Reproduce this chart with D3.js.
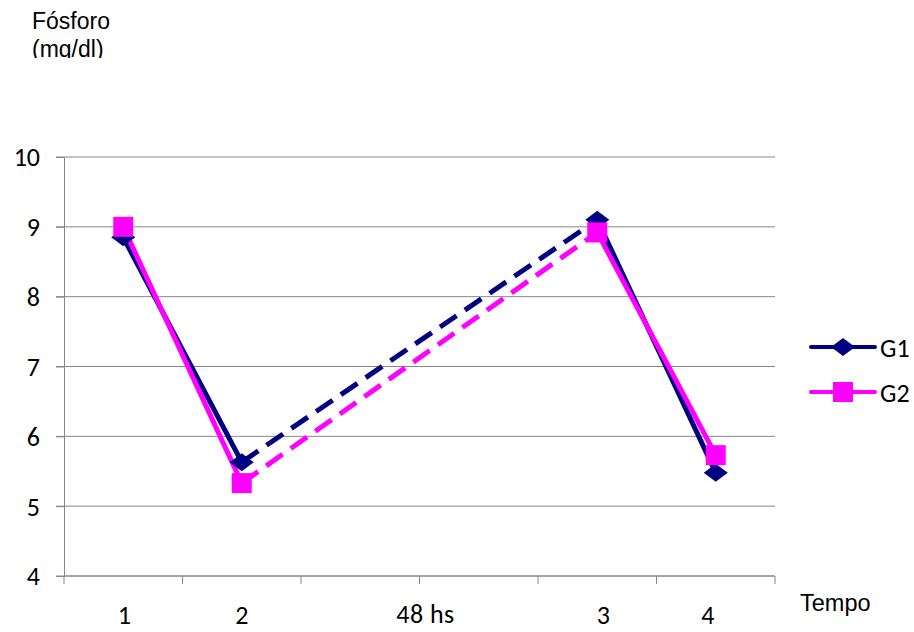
<!DOCTYPE html>
<html>
<head>
<meta charset="utf-8">
<script src="https://cdn.jsdelivr.net/npm/d3@7"></script>
<style>
  body { margin: 0; background: #fff; }
  svg { display: block; }
</style>
</head>
<body>
<svg id="chart" width="914" height="632"></svg>
<script>
// Time slots along the x axis (the two middle slots represent the 48 h gap)
const slots = ["t1", "t2", "gapA", "gapB", "t3", "t4"];
const slotLabels = ["1", "2", "", "", "3", "4"];
const gapLabel = "48 hs";

// Phosphorus (mg/dl) per group at each measured time
const measuredSlots = ["t1", "t2", "t3", "t4"];
const g1Values = [8.85, 5.63, 9.1, 5.48];
const g2Values = [9.0, 5.33, 8.92, 5.73];

const yTicks = [4, 5, 6, 7, 8, 9, 10];
const seriesNames = ["G1", "G2"];
const seriesColors = ["#000080", "#FF00FF"];

const svg = d3.select("#chart");
const plotLeft = 64, plotRight = 775, plotTop = 157, plotBottom = 576;

const x = d3.scaleBand().domain(slots).range([plotLeft, plotRight]);
const y = d3.scaleLinear().domain([4, 10]).range([plotBottom, plotTop]);

const fontNum = "Carlito, Calibri, Lato, 'Open Sans', sans-serif";
const fontArial = "'Liberation Sans', Arial, sans-serif";

// Horizontal gridlines
svg.append("g")
  .selectAll("line")
  .data(yTicks)
  .join("line")
  .attr("x1", plotLeft - 8).attr("x2", plotRight)
  .attr("y1", d => y(d)).attr("y2", d => y(d))
  .attr("stroke", "#868686").attr("stroke-width", 1);

// Y axis
const yAxis = svg.append("g")
  .attr("transform", `translate(${plotLeft},0)`)
  .call(d3.axisLeft(y).tickValues(yTicks).tickSize(8).tickFormat(d3.format("d")));
yAxis.select(".domain").attr("stroke", "#868686");
yAxis.selectAll(".tick line").attr("stroke", "#868686");
yAxis.selectAll(".tick text")
  .attr("x", -24)
  .attr("dy", "0.34em")
  .attr("font-family", fontNum).attr("font-size", 26).attr("fill", "#000");

// X axis: ticks at slot boundaries
const xAxis = svg.append("g")
  .attr("transform", `translate(0,${plotBottom})`);
xAxis.append("line")
  .attr("x1", plotLeft).attr("x2", plotRight)
  .attr("stroke", "#868686");
const boundaries = slots.map(s => x(s)).concat([x(slots[slots.length - 1]) + x.bandwidth()]);
xAxis.selectAll("line.tk")
  .data(boundaries)
  .join("line")
  .attr("class", "tk")
  .attr("x1", d => d).attr("x2", d => d)
  .attr("y1", 0).attr("y2", 8)
  .attr("stroke", "#868686");
// small horizontal nudges for the hand-placed time labels
const labelNudge = { t1: 1, t2: 0, t3: 6, t4: -8 };
xAxis.selectAll("text.lbl")
  .data(slots.filter((s, i) => slotLabels[i] !== ""))
  .join("text")
  .attr("class", "lbl")
  .attr("x", d => x(d) + x.bandwidth() / 2 + (labelNudge[d] || 0))
  .attr("y", 48)
  .attr("text-anchor", "middle")
  .attr("font-family", fontNum).attr("font-size", 26)
  .text(d => slotLabels[slots.indexOf(d)]);
xAxis.append("text")
  .attr("x", x("gapB") + 6)
  .attr("y", 47)
  .attr("text-anchor", "middle")
  .attr("font-family", fontNum).attr("font-size", 26)
  .attr("letter-spacing", 0.5)
  .text(gapLabel);

// Axis titles
svg.append("text")
  .attr("x", 800).attr("y", 611)
  .attr("font-family", fontArial).attr("font-size", 23.5)
  .text("Tempo");

svg.append("clipPath").attr("id", "ytitleClip")
  .append("rect").attr("x", 0).attr("y", 0).attr("width", 200).attr("height", 58);
const yTitle = svg.append("text")
  .attr("clip-path", "url(#ytitleClip)")
  .attr("font-family", fontArial).attr("font-size", 23);
yTitle.append("tspan").attr("x", 32).attr("y", 29).text("Fósforo");
yTitle.append("tspan").attr("x", 32).attr("y", 56.5).text("(mg/dl)");

// Series
const series = [g1Values, g2Values].map((vals, i) => ({
  name: seriesNames[i],
  color: seriesColors[i],
  points: vals.map((v, j) => ({ slot: measuredSlots[j], value: v }))
}));
const px = d => x(d.slot) + x.bandwidth() / 2;
const py = d => y(d.value);

// Segments: solid within a day, dashed across the 48 h gap
const segs = [[0, 1, false], [1, 2, true], [2, 3, false]];
series.forEach(s => {
  svg.append("g")
    .selectAll("line")
    .data(segs)
    .join("line")
    .attr("x1", d => px(s.points[d[0]])).attr("y1", d => py(s.points[d[0]]))
    .attr("x2", d => px(s.points[d[1]])).attr("y2", d => py(s.points[d[1]]))
    .attr("stroke", s.color)
    .attr("stroke-width", 5)
    .attr("stroke-linecap", d => d[2] ? "butt" : "round")
    .attr("stroke-dasharray", d => d[2] ? "20,10" : null);
});

// Markers
const diamond = (cx, cy) => `M${cx},${cy - 9}L${cx + 12},${cy}L${cx},${cy + 9}L${cx - 12},${cy}Z`;
function marker(g, s, cx, cy) {
  if (s.name === "G1") {
    g.append("path").attr("d", diamond(cx, cy)).attr("fill", s.color);
  } else {
    g.append("rect").attr("x", cx - 10).attr("y", cy - 10)
      .attr("width", 20).attr("height", 20).attr("fill", s.color);
  }
}
series.forEach(s => {
  const g = svg.append("g");
  s.points.forEach(p => marker(g, s, px(p), py(p)));
});

// Legend
const legendY = [347, 392];
series.forEach((s, i) => {
  const g = svg.append("g");
  g.append("line")
    .attr("x1", 811).attr("x2", 875)
    .attr("y1", legendY[i]).attr("y2", legendY[i])
    .attr("stroke", s.color).attr("stroke-width", 4).attr("stroke-linecap", "round");
  marker(g, s, 843, legendY[i]);
  g.append("text")
    .attr("x", 880).attr("y", legendY[i] + 9.5)
    .attr("font-family", fontNum).attr("font-size", 26)
    .text(s.name);
});
</script>
</body>
</html>
